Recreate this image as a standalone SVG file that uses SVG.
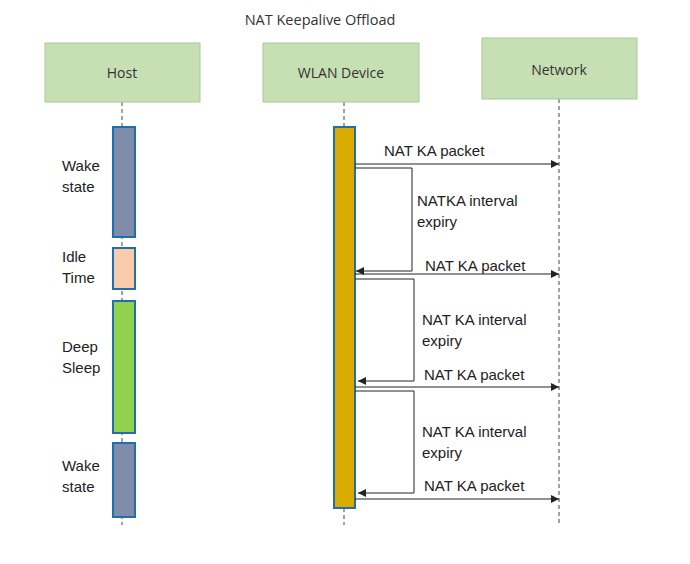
<svg xmlns="http://www.w3.org/2000/svg" width="690" height="564" viewBox="0 0 690 564">
<defs>
<marker id="ah" viewBox="0 0 10 10" refX="10" refY="5" markerWidth="8" markerHeight="8" markerUnits="userSpaceOnUse" orient="auto">
<path d="M0,0 L10,5 L0,10 z" fill="#222"/>
</marker>
<style>
.box{fill:#C6E0B4;stroke:#A9C99A;stroke-width:1}
.bt{font-family:"Open Sans","Liberation Sans",sans-serif;font-size:14px;fill:#333;text-anchor:middle}
.life{stroke:#444;stroke-width:1;stroke-dasharray:4,3}
.act{stroke:#1F6FAE;stroke-width:2}
.lab{font-family:"Liberation Sans",Arial,sans-serif;font-size:15px;fill:#222}
.msg{stroke:#222;stroke-width:1;fill:none}
</style>
</defs>
<rect width="690" height="564" fill="#fff"/>
<text x="320" y="25" class="bt" style="font-size:14.5px">NAT Keepalive Offload</text>

<g id="lifelines">
<line x1="122" y1="102" x2="122" y2="525" class="life"/>
<line x1="344" y1="102" x2="344" y2="525" class="life"/>
<line x1="559" y1="99" x2="559" y2="525" class="life"/>
</g>

<g id="host">
<rect x="45" y="43" width="155" height="59" class="box"/>
<text x="122" y="78" class="bt">Host</text>
</g>
<g id="wlan">
<rect x="263" y="43" width="156" height="59" class="box"/>
<text x="341" y="78" class="bt">WLAN Device</text>
</g>
<g id="network">
<rect x="482" y="38" width="155" height="61" class="box"/>
<text x="559" y="75" class="bt">Network</text>
</g>

<g id="host-states">
<rect x="113" y="127" width="22" height="110" class="act" fill="#7F8CAA"/>
<rect x="113" y="248" width="22" height="41" class="act" fill="#F8CBAD"/>
<rect x="113" y="301" width="22" height="132" class="act" fill="#92D050"/>
<rect x="113" y="443" width="22" height="74" class="act" fill="#7F8CAA"/>
<text class="lab" x="62" y="171">Wake</text>
<text class="lab" x="62" y="192">state</text>
<text class="lab" x="62" y="262">Idle</text>
<text class="lab" x="62" y="283">Time</text>
<text class="lab" x="62" y="352">Deep</text>
<text class="lab" x="62" y="373">Sleep</text>
<text class="lab" x="62" y="471">Wake</text>
<text class="lab" x="62" y="492">state</text>
</g>

<g id="wlan-active">
<rect x="334" y="127" width="21" height="381" class="act" fill="#D9AB00"/>
</g>

<g id="connectors">
<line x1="355" y1="164" x2="559" y2="164" class="msg" marker-end="url(#ah)"/>
<polyline points="355,168 412,168 412,271 356,271" class="msg" marker-end="url(#ah)"/>
<line x1="355" y1="274" x2="559" y2="274" class="msg" marker-end="url(#ah)"/>
<polyline points="355,279 414,279 414,381 358,381" class="msg" marker-end="url(#ah)"/>
<line x1="355" y1="387" x2="559" y2="387" class="msg" marker-end="url(#ah)"/>
<polyline points="355,391 414,391 414,493 358,493" class="msg" marker-end="url(#ah)"/>
<line x1="355" y1="499" x2="559" y2="499" class="msg" marker-end="url(#ah)"/>
<text class="lab" x="384" y="156">NAT KA packet</text>
<text class="lab" x="417" y="206">NATKA interval</text>
<text class="lab" x="417" y="227">expiry</text>
<text class="lab" x="425" y="271">NAT KA packet</text>
<text class="lab" x="422" y="325">NAT KA interval</text>
<text class="lab" x="422" y="346">expiry</text>
<text class="lab" x="424" y="380">NAT KA packet</text>
<text class="lab" x="422" y="437">NAT KA interval</text>
<text class="lab" x="422" y="458">expiry</text>
<text class="lab" x="424" y="491">NAT KA packet</text>
</g>
</svg>
